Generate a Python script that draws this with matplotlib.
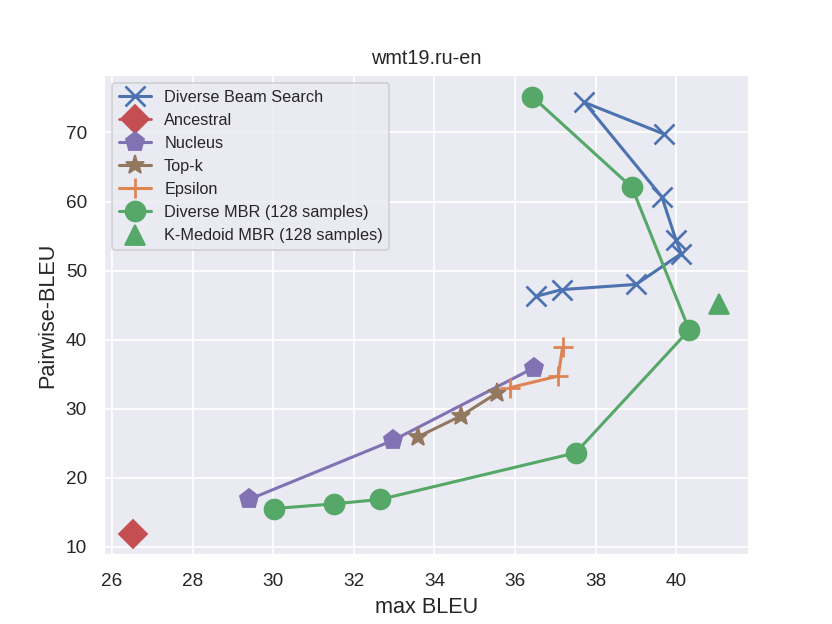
import matplotlib
matplotlib.use("Agg")
import matplotlib.pyplot as plt
import seaborn as sns

sns.set_theme(style="darkgrid")
plt.rcParams['font.family'] = ['Liberation Sans', 'DejaVu Sans']

# max BLEU / Pairwise-BLEU
dbs_x = [39.69, 37.72, 39.64, 39.99, 40.12, 39.00, 37.16, 36.53]
dbs_y = [69.77, 74.35, 60.68, 54.45, 52.46, 48.00, 47.25, 46.29]

ancestral_x = [26.53]
ancestral_y = [11.94]

nucleus_x = [29.40, 32.97, 36.47]
nucleus_y = [16.87, 25.42, 35.94]

topk_x = [33.59, 34.65, 35.54]
topk_y = [25.94, 28.94, 32.23]

epsilon_x = [35.87, 37.07, 37.18]
epsilon_y = [33.04, 34.74, 38.94]

dmbr_x = [36.43, 38.90, 40.32, 37.50, 32.65, 31.50, 30.03]
dmbr_y = [75.17, 62.03, 41.41, 23.62, 16.87, 16.23, 15.56]

kmedoid_x = [41.07]
kmedoid_y = [45.13]

pal = sns.color_palette("deep")
ms = 11
lw = 1.7

fig, ax = plt.subplots(figsize=(6.4, 4.8), dpi=130)
ax.plot(dbs_x, dbs_y, marker='x', ms=ms, mew=1.5, lw=lw, color=pal[0], label='Diverse Beam Search')
ax.plot(ancestral_x, ancestral_y, marker='D', ms=ms, color=pal[3], label='Ancestral')
ax.plot(nucleus_x, nucleus_y, marker='p', ms=ms, lw=lw, color=pal[4], label='Nucleus')
ax.plot(topk_x, topk_y, marker='*', ms=ms, lw=lw, color=pal[5], label='Top-k')
ax.plot(epsilon_x, epsilon_y, marker='+', ms=ms, mew=1.5, lw=lw, color=pal[1], label='Epsilon')
ax.plot(dmbr_x, dmbr_y, marker='o', ms=ms, lw=lw, color=pal[2], label='Diverse MBR (128 samples)')
ax.plot(kmedoid_x, kmedoid_y, marker='^', ms=ms, color=pal[2], linestyle='none',
        label='K-Medoid MBR (128 samples)')

ax.set_title('wmt19.ru-en', fontsize=11)
ax.set_xlabel('max BLEU', fontsize=12)
ax.set_ylabel('Pairwise-BLEU', fontsize=12)
ax.tick_params(labelsize=10.5)
ax.legend(loc='upper left', fontsize=9)

fig.savefig('out.png', dpi=130)
